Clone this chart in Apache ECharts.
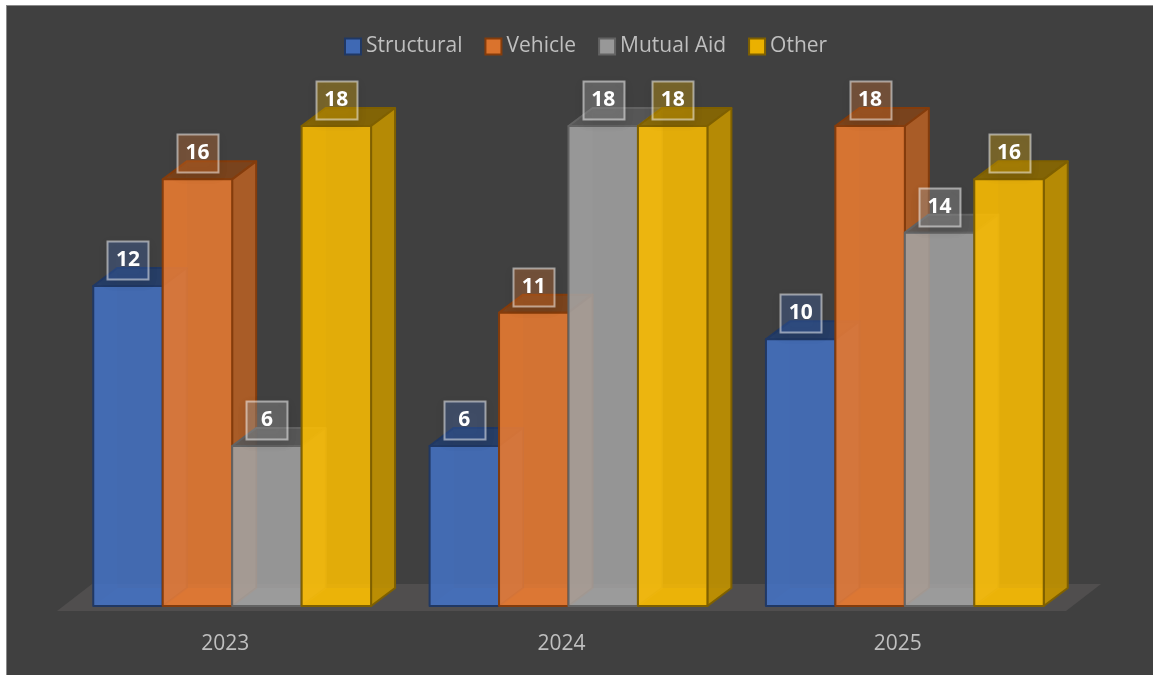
<!DOCTYPE html>
<html>
<head>
<meta charset="utf-8">
<style>
html,body{margin:0;padding:0;background:#fff;width:1153px;height:675px;overflow:hidden}
#panel{position:absolute;left:6px;top:5px;right:0;bottom:0;background:#404040;border-left:1px solid #8a8a8a;border-top:1px solid #8a8a8a}
#chart{position:absolute;left:0;top:0;width:1153px;height:675px}
</style>
<script src="https://cdn.jsdelivr.net/npm/echarts@6/dist/echarts.min.js"></script>
</head>
<body>
<div id="panel"></div>
<div id="chart"></div>
<script>
const categories = ['2023', '2024', '2025'];
const structural = [12, 6, 10];
const vehicle = [16, 11, 18];
const mutualAid = [6, 18, 14];
const other = [18, 18, 16];

const seriesNames = ['Structural', 'Vehicle', 'Mutual Aid', 'Other'];
const seriesValues = [structural, vehicle, mutualAid, other];
const baseColors = [[68,114,196],[237,125,49],[165,165,165],[255,192,0]];
const edgeColors = ['#203864','#843c0c','#636363','#7f6000'];

const FONT = '"Open Sans"';
const DX = 24, DY = -18;
function rgba(c, shade, a){ return 'rgba(' + c.map(v => Math.round(v*shade)).join(',') + ',' + a + ')'; }

function renderBar(seriesIdx){
  return function(params, api){
    const p = api.coord([api.value(0), api.value(1)]);
    const base = api.coord([api.value(0), 0]);
    const band = api.size([1, 0])[0];
    const w = band * 0.2065;
    const x0 = p[0] + band * 0.0208 - 2 * w + seriesIdx * w;
    const x1 = x0 + w, yT = p[1], yB = base[1];
    const c = baseColors[seriesIdx], edge = edgeColors[seriesIdx];
    const poly = (pts, fill, sw, st) => ({
      type: 'polygon', silent: true,
      shape: {points: pts},
      style: {fill: fill, stroke: st === undefined ? edge : st, lineWidth: sw, lineJoin: 'round'}
    });
    const cx = (x0 + x1) / 2, cy = yT - 26;
    return {
      type: 'group',
      children: [
        // hidden faces seen faintly through the translucent front
        poly([[x0,yT],[x0+DX,yT+DY],[x0+DX,yB+DY],[x0,yB]], rgba(c,1.0,0.12), 0, null),
        poly([[x0,yB],[x1,yB],[x1+DX,yB+DY],[x0+DX,yB+DY]], rgba(c,1.0,0.25), 0, null),
        // visible faces
        poly([[x0,yT],[x1,yT],[x1+DX,yT+DY],[x0+DX,yT+DY]], rgba(c,0.54,0.9), 2),
        poly([[x1,yT],[x1+DX,yT+DY],[x1+DX,yB+DY],[x1,yB]], rgba(c,0.75,0.92), 2),
        poly([[x0,yT],[x1,yT],[x1,yB],[x0,yB]], rgba(c,1,0.85), 2),
        // value label
        {
          type: 'rect', silent: true,
          shape: {x: Math.round(cx-20.5)+0.5, y: Math.round(cy-19)+0.5, width: 41, height: 38},
          style: {fill: rgba(c,1,seriesIdx === 2 ? 0.36 : 0.3), stroke: 'rgba(255,255,255,0.5)', lineWidth: 2,
                  shadowBlur: 10, shadowColor: 'rgba(0,0,0,0.22)', shadowOffsetY: 3}
        },
        {
          type: 'text', silent: true,
          x: cx, y: cy,
          style: {text: String(api.value(1)), fill: '#fff', font: 'bold 21px ' + FONT, align: 'center', verticalAlign: 'middle'}
        }
      ]
    };
  };
}

function renderFloor(params, api){
  const cs = params.coordSys;
  const yB = api.coord([0, 0])[1];
  const L = cs.x, R = cs.x + cs.width;
  return {
    type: 'polygon', silent: true,
    shape: {points: [[L, yB+5],[R, yB+5],[R+35, yB-22],[L+35, yB-22]]},
    style: {fill: '#504e4e'}
  };
}

const chart = echarts.init(document.getElementById('chart'), null, {renderer: 'canvas'});
chart.setOption({
  animation: false,
  backgroundColor: 'transparent',
  legend: {
    left: 344, top: 36, padding: 0, selectedMode: false,
    itemWidth: 16, itemHeight: 16, itemGap: 22,
    icon: 'rect',
    data: seriesNames.map((n, i) => ({
      name: n,
      itemStyle: {color: rgba(baseColors[i],0.92,1), borderColor: edgeColors[i], borderWidth: 2}
    })),
    textStyle: {color: '#bfbfbf', fontSize: 21, fontFamily: FONT}
  },
  grid: {left: 57, right: 87, top: 126, bottom: 69},
  xAxis: {
    type: 'category', data: categories,
    axisLine: {show: false}, axisTick: {show: false}, splitLine: {show: false},
    axisLabel: {color: '#bfbfbf', fontSize: 21, fontFamily: FONT, margin: 28}
  },
  yAxis: {type: 'value', min: 0, max: 18, show: false},
  series: [
    {type: 'custom', name: 'floor', silent: true, z: 1, coordinateSystem: 'cartesian2d',
     renderItem: renderFloor, data: [[0, 0]], encode: {x: 0, y: 1}}
  ].concat(seriesNames.map((n, i) => ({
    type: 'custom', name: n, silent: true, z: 2 + i, clip: false,
    coordinateSystem: 'cartesian2d',
    renderItem: renderBar(i),
    itemStyle: {color: rgba(baseColors[i],0.92,1), borderColor: edgeColors[i], borderWidth: 2},
    encode: {x: 0, y: 1},
    data: seriesValues[i].map((v, k) => [k, v])
  })))
});
</script>
</body>
</html>
